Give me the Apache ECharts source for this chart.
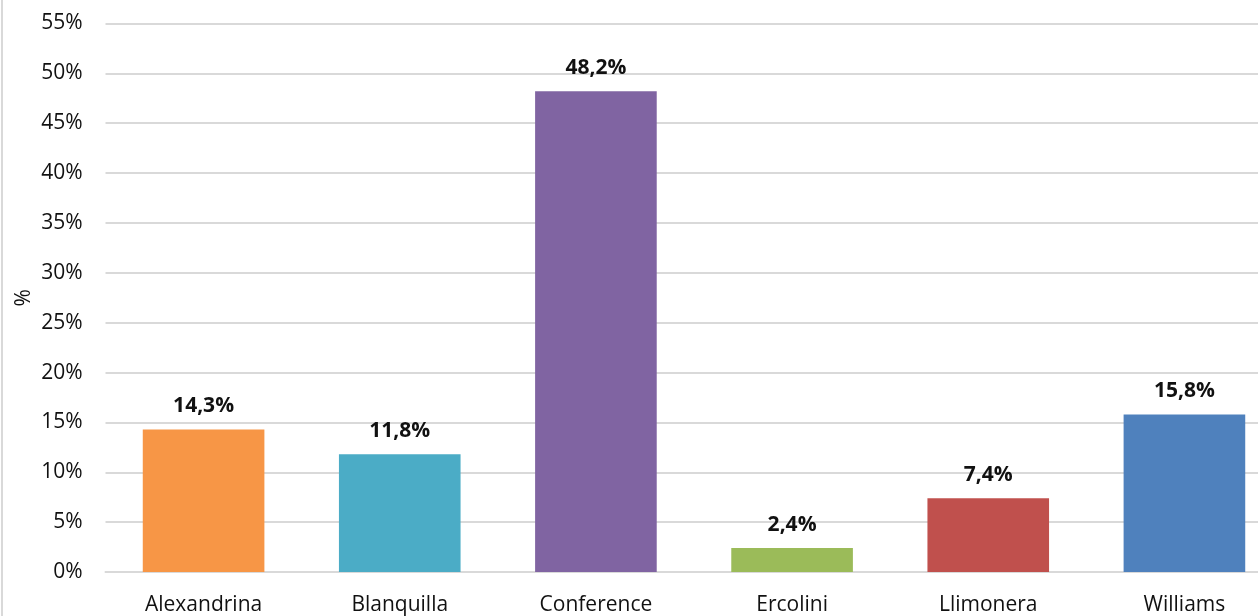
<!DOCTYPE html>
<html><head><meta charset="utf-8">
<script src="https://cdn.jsdelivr.net/npm/echarts@6/dist/echarts.min.js"></script>
<style>html,body{margin:0;padding:0;background:#fff}#c{width:1258px;height:616px;position:relative}#b{position:absolute;left:1px;top:0;width:2px;height:616px;background:#d9d9d9;z-index:5}</style>
</head><body><div id="c"></div><div id="b"></div>
<script>
const categories = ['Alexandrina','Blanquilla','Conference','Ercolini','Llimonera','Williams'];
const values = [14.3, 11.8, 48.2, 2.4, 7.4, 15.8];
const colors = ['#F79646','#4BACC6','#8064A2','#9BBB59','#C0504D','#4F81BD'];
const font = 'Open Sans, Noto Sans, sans-serif';
const chart = echarts.init(document.getElementById('c'));
chart.setOption({
  animation:false,
  grid:{left:105.5,width:1177,top:23.5,bottom:44,containLabel:false,outerBoundsMode:'none'},
  xAxis:{type:'category',data:categories,
    axisLine:{show:true,lineStyle:{color:'#d9d9d9',width:2}},axisTick:{show:false},
    axisLabel:{color:'#111',fontSize:21,fontFamily:font,margin:23}},
  yAxis:{type:'value',min:0,max:55,interval:5,name:'%',nameLocation:'middle',nameGap:71,nameMoveOverlap:false,
    nameTextStyle:{color:'#111',fontSize:21,fontFamily:font},
    axisLine:{show:false},axisTick:{show:false},
    splitLine:{lineStyle:{color:'#d9d9d9',width:2}},
    axisLabel:{color:'#111',fontSize:21,fontFamily:font,margin:23,formatter:v=>v+'%'}},
  series:[{type:'bar',barWidth:'62%',
    data:values.map((v,i)=>({value:v,itemStyle:{color:colors[i]}})),
    label:{show:true,position:'top',distance:13,color:'#111',fontSize:21,fontWeight:'bold',fontFamily:font,
      formatter:p=>p.value.toFixed(1).replace('.',',')+'%'}}]
});
</script></body></html>
